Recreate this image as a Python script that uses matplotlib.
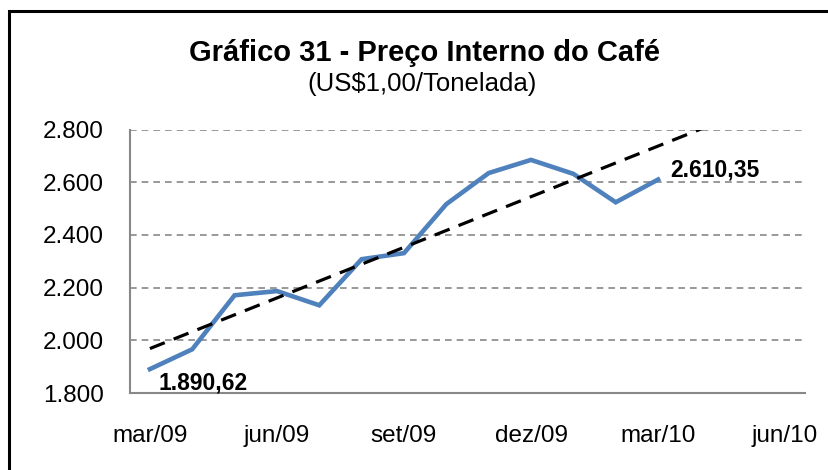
import matplotlib
matplotlib.use("Agg")
import matplotlib.pyplot as plt
import numpy as np
from matplotlib.patches import Rectangle

plt.rcParams['font.family'] = ['Liberation Sans', 'DejaVu Sans']

# monthly price, mar/09 .. mar/10
meses = ['mar/09', 'abr/09', 'mai/09', 'jun/09', 'jul/09', 'ago/09', 'set/09',
         'out/09', 'nov/09', 'dez/09', 'jan/10', 'fev/10', 'mar/10']
preco = [1890.62, 1966, 2171, 2187, 2133, 2308, 2331,
         2517, 2635, 2685, 2632, 2524, 2610.35]
tick_labels = ['mar/09', 'jun/09', 'set/09', 'dez/09', 'mar/10', 'jun/10']
y_ticks = [1800, 2000, 2200, 2400, 2600, 2800]

def fmt_br(v, dec=0):
    s = f"{v:,.{dec}f}"
    return s.replace(',', 'X').replace('.', ',').replace('X', '.')

fig = plt.figure(figsize=(8.29, 4.70), dpi=100)
ax = fig.add_axes([130/829, 77/470, 675/829, 263.4/470])

x = np.arange(len(preco))
ax.plot(x, preco, color='#4F81BD', lw=3.3, solid_joinstyle='miter', zorder=3)

# linear trend with forward forecast (clipped by the axis)
coef = np.polyfit(x, preco, 1)
xt = np.linspace(0, 16, 50)
ax.plot(xt, np.polyval(coef, xt), color='black', lw=2.3, ls=(0, (5, 3)), zorder=4)

ax.set_xlim(-0.47, 15.47)
ax.set_ylim(1800, 2800)
ax.set_xticks(np.arange(0, 16, 3))
ax.set_xticklabels(tick_labels)
ax.set_yticks(y_ticks)
ax.set_yticklabels([fmt_br(v) for v in y_ticks])
ax.tick_params(axis='both', length=0, labelsize=17.5)
ax.tick_params(axis='y', pad=19)
ax.tick_params(axis='x', pad=23)

ax.yaxis.grid(True, color='#888888', lw=1.2, ls=(0, (4, 3)))
ax.set_axisbelow(True)
for s in ['top', 'right']:
    ax.spines[s].set_visible(False)
for s in ['left', 'bottom']:
    ax.spines[s].set_color('#888888')
    ax.spines[s].set_linewidth(1.5)

ax.annotate(fmt_br(preco[0], 2), xy=(x[0], preco[0]), xytext=(6, -10),
            textcoords='offset points', ha='left', va='center',
            fontsize=16.5, fontweight='bold')
ax.annotate(fmt_br(preco[-1], 2), xy=(x[-1], preco[-1]), xytext=(9, 7),
            textcoords='offset points', ha='left', va='center',
            fontsize=16.5, fontweight='bold')

fig.text(0.512, 1 - 53/470, 'Gráfico 31 - Preço Interno do Café',
         ha='center', va='center', fontsize=21, fontweight='bold')
fig.text(0.509, 1 - 84/470, '(US$1,00/Tonelada)',
         ha='center', va='center', fontsize=18.5)

# outer chart frame (only top and left edges fall inside the image)
fig.patches.append(Rectangle((9.5/829, -0.1), 1.1, 1 - 11.5/470 + 0.1,
                             transform=fig.transFigure, fill=False,
                             edgecolor='black', lw=2.2))

fig.savefig('out.png', dpi=100)
